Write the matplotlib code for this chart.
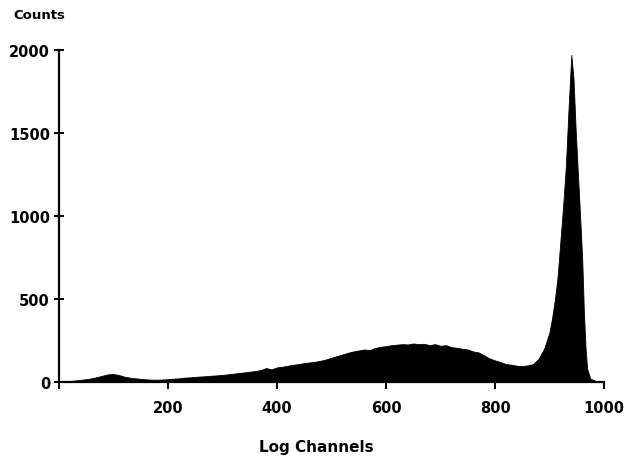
import numpy as np
import matplotlib.pyplot as plt

plt.rcParams['font.family'] = ['DejaVu Sans']

# channel / counts
channels = [0, 10, 20, 30, 40, 50, 60, 70, 80, 90,
            100, 110, 120, 130, 140, 150, 160, 170, 180, 190,
            200, 210, 220, 230, 240, 250, 260, 270, 280, 290,
            300, 310, 320, 330, 340, 350, 360, 370, 380, 390,
            400, 410, 420, 430, 440, 450, 460, 470, 480, 490,
            500, 510, 520, 530, 540, 550, 560, 570, 580, 590,
            600, 610, 620, 630, 640, 650, 660, 670, 680, 690,
            700, 710, 720, 730, 740, 750, 760, 770, 780, 790,
            800, 810, 820, 830, 840, 850, 860, 870, 880, 890,
            900, 905, 910, 915, 920, 925, 930, 935, 940, 944,
            948, 952, 956, 960, 963, 966, 969, 975, 985, 1000]
counts = [0, 3, 6, 9, 13, 17, 22, 30, 38, 46,
          48, 42, 32, 26, 22, 19, 16, 14, 14, 15,
          17, 20, 22, 26, 28, 31, 33, 35, 38, 40,
          43, 46, 50, 54, 58, 62, 66, 72, 84, 76,
          88, 92, 98, 104, 108, 114, 118, 122, 128, 136,
          146, 156, 166, 176, 184, 190, 196, 192, 205, 212,
          216, 222, 225, 228, 226, 232, 228, 230, 222, 228,
          218, 222, 210, 206, 200, 196, 184, 178, 160, 142,
          130, 120, 108, 104, 98, 96, 100, 108, 140, 200,
          300, 390, 500, 640, 850, 1060, 1300, 1650, 1970, 1830,
          1520, 1260, 1010, 740, 430, 210, 80, 20, 6, 0]

fig = plt.figure(figsize=(6.32, 4.64), dpi=100)
ax = fig.add_axes([0.0934, 0.1746, 0.8623, 0.7154])

ax.fill_between(channels, counts, 0, color='black', linewidth=0.6, edgecolor='black')

ax.set_xlim(0, 1000)
ax.set_ylim(0, 2000)
ax.set_xticks([0, 200, 400, 600, 800, 1000])
ax.set_xticklabels(['', '200', '400', '600', '800', '1000'])
ax.set_yticks([0, 500, 1000, 1500, 2000])

for s in ['top', 'right']:
    ax.spines[s].set_visible(False)
for s in ['left', 'bottom']:
    ax.spines[s].set_linewidth(1.6)

ax.tick_params(axis='y', direction='inout', length=7, width=1.4, pad=3,
               labelsize=10.5)
ax.tick_params(axis='x', direction='out', length=5, width=1.4, pad=8,
               labelsize=10.5)
for lab in ax.get_xticklabels() + ax.get_yticklabels():
    lab.set_fontweight('bold')

fig.text(0.021, 0.967, 'Counts', fontsize=9.5, fontweight='bold', va='center', ha='left')
fig.text(0.5, 0.036, 'Log Channels', fontsize=11, fontweight='bold', va='center', ha='center')

fig.savefig('out.png', dpi=100)
